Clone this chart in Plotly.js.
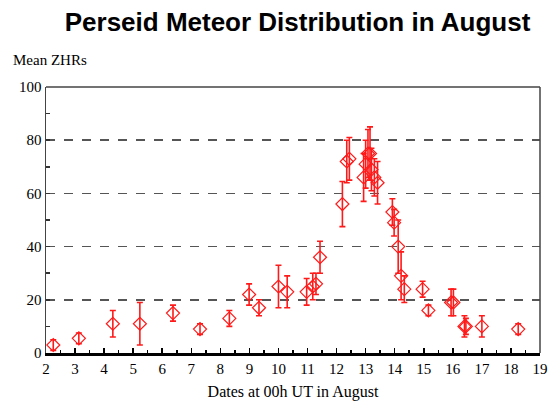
<!DOCTYPE html>
<html>
<head>
<meta charset="utf-8">
<script src="https://cdn.plot.ly/plotly-3.0.1.min.js"></script>
<style>html,body{margin:0;padding:0;background:#fff}#chart{width:551px;height:401px}</style>
</head>
<body>
<div id="chart"></div>
<script>
// Dates at 00h UT in August (day number)
const dates = [2.25, 3.13, 4.3, 5.23, 6.37, 7.3, 8.31, 8.99, 9.33, 10.0, 10.3, 10.97, 11.18, 11.29, 11.43,
  12.2, 12.35, 12.44, 12.93, 13.0, 13.08, 13.15, 13.2, 13.3, 13.41,
  13.92, 13.98, 14.12, 14.22, 14.33, 14.96, 15.16, 15.94, 16.02, 16.4, 16.45, 17.0, 18.25];
// Mean ZHR values
const zhr = [3, 5.5, 11, 11, 15, 9, 13, 22, 17, 25, 23, 23, 25, 26, 36,
  56, 72, 73, 66, 71, 75, 75, 69, 66, 64,
  53, 49, 40, 29, 24, 24, 16, 19, 19, 10, 10, 10, 9];
// Error (+/-)
const err = [2, 2, 5, 8, 3, 2, 3, 4, 3, 8, 6, 5, 5, 4, 6,
  8.5, 8, 8, 9, 9, 9, 10, 8, 7, 8,
  5, 5, 10, 9, 5, 3, 2, 5, 5, 4, 3, 4, 2];
const xTicks = [2,3,4,5,6,7,8,9,10,11,12,13,14,15,16,17,18,19];
const yTicks = [0,20,40,60,80,100];

const serif = '"Liberation Serif", "DejaVu Serif", serif';

const trace = {
  x: dates, y: zhr, type: 'scatter', mode: 'markers',
  marker: {symbol: 'diamond-open', size: 10, color: '#ff1a1a', line: {width: 1.2}},
  error_y: {type: 'data', array: err, visible: true, color: '#ff1a1a', thickness: 1.6, width: 3},
  showlegend: false, hoverinfo: 'x+y'
};

const layout = {
  width: 551, height: 401,
  margin: {l: 46, r: 11, t: 87, b: 48},
  paper_bgcolor: '#fff', plot_bgcolor: '#fff',
  title: {text: 'Perseid Meteor Distribution in August', x: 0.54, xanchor: 'center', y: 0.945, yanchor: 'middle',
    font: {family: '"Liberation Sans", Arial, sans-serif', size: 26, color: '#000', weight: 'bold'}},
  xaxis: {
    range: [2, 19], tickvals: xTicks, ticktext: xTicks.map(String),
    ticks: 'inside', ticklen: 5, tickwidth: 1.5, tickcolor: '#000',
    minor: {dtick: 0.5, tick0: 2, ticks: 'inside', ticklen: 3, tickwidth: 1.5, tickcolor: '#000', showgrid: false},
    showgrid: false, zeroline: false,
    showline: true, linecolor: '#000', linewidth: 3,
    tickfont: {family: serif, size: 15, color: '#000'},
    title: {text: 'Dates at 00h UT in August', font: {family: serif, size: 16, color: '#000'}, standoff: 12}
  },
  yaxis: {
    range: [0, 100], tickvals: yTicks, ticktext: yTicks.map(String),
    ticks: 'inside', ticklen: 4, tickwidth: 1.5, tickcolor: '#333',
    minor: {dtick: 10, ticks: 'inside', ticklen: 4, tickwidth: 1.5, tickcolor: '#333', showgrid: false},
    showgrid: true, gridcolor: '#555', griddash: 'dash', gridwidth: 1.5,
    zeroline: false,
    showline: true, linecolor: '#444', linewidth: 1.5,
    tickfont: {family: serif, size: 15, color: '#000'}
  },
  shapes: [
    {type: 'line', xref: 'paper', yref: 'paper', x0: 0, x1: 1, y0: 1, y1: 1, line: {color: '#444', width: 1.5}},
    {type: 'line', xref: 'paper', yref: 'paper', x0: 1, x1: 1, y0: 0, y1: 1, line: {color: '#444', width: 1.5}}
  ],
  annotations: [
    {text: 'Mean ZHRs', xref: 'paper', yref: 'paper', x: -0.07, y: 1.10, xanchor: 'left', yanchor: 'middle',
     showarrow: false, font: {family: serif, size: 15, color: '#000'}}
  ]
};

Plotly.newPlot('chart', [trace], layout, {displayModeBar: false, staticPlot: true});
</script>
</body>
</html>
